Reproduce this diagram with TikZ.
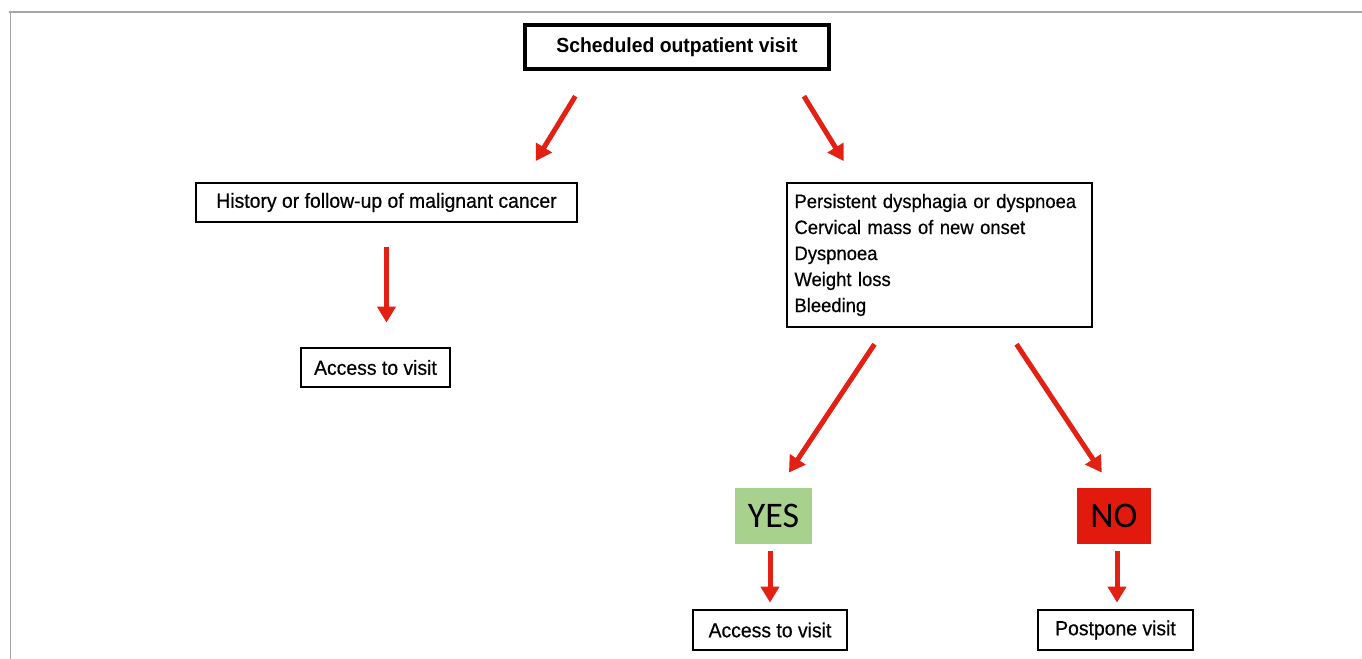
\documentclass[tikz,border=0pt]{standalone}
\usepackage{fontspec}
\setmainfont{Liberation Sans}[FakeStretch=0.95]
\newfontfamily\boxfont{Liberation Sans}[FakeStretch=0.95,FakeBold=0.5]
\newfontfamily\yesfont{Carlito}
\usetikzlibrary{arrows.meta,calc}
\definecolor{freccia}{RGB}{226,32,20}
\definecolor{verde}{RGB}{169,209,142}
\definecolor{rosso}{RGB}{226,26,14}
\begin{document}
\begin{tikzpicture}[x=0.5pt,y=-0.5pt,
    box/.style={draw,line width=1.4pt,inner sep=0pt,font=\boxfont\fontsize{10.2}{13}\selectfont},
    arr/.style={freccia,line width=2.5pt,-{Triangle[width=9pt,length=8pt]}},
    esito/.style={inner sep=0pt,minimum height=28pt,font=\yesfont\fontsize{18}{18}\selectfont}]
    \useasboundingbox (0,0) rectangle (1362,659);
    \draw[gray!70,line width=0.8pt] (9,12) -- (1362,12); %cornice sopra
    \draw[gray!70,line width=0.8pt] (10.5,12) -- (10.5,659); %cornice sinistra
    \node[box,line width=1.6pt,font=\bfseries\fontsize{10.2}{12}\selectfont,minimum width=152pt,minimum height=22pt] (top) at (677,47) {Scheduled outpatient visit};
    \node[box,minimum width=190.5pt,minimum height=19.5pt] (hist) at (386.5,202.5) {History or follow-up of malignant cancer};
    \node[box,minimum width=74.5pt,minimum height=19.5pt] (acc1) at (375.5,367.5) {Access to visit};
    \node[box,font=\boxfont\fontsize{9.7}{13}\selectfont,inner xsep=3.75pt,text width=145pt,minimum height=72pt,align=left] (sym) at (939.5,255)
      {Persistent dysphagia or dyspnoea\\Cervical mass of new onset\\Dyspnoea\\Weight loss\\Bleeding};
    \node[esito,fill=verde,minimum width=38.5pt] (yes) at (773.5,516) {YES}; %si
    \node[esito,fill=rosso,minimum width=37pt] (no) at (1114,516) {NO}; %no
    \node[box,minimum width=77pt,minimum height=20pt] (acc2) at (770,630) {Access to visit};
    \node[box,minimum width=77.5pt,minimum height=20pt] (post) at (1115.5,630) {Postpone visit};
    % frecce
    \draw[arr,shorten <=15pt,shorten >=12pt] ($(top.south west)!0.22!(top.south east)$) -- ($(hist.north west)!0.856!(hist.north east)$);
    \draw[arr,shorten <=15pt,shorten >=12pt] ($(top.south west)!0.862!(top.south east)$) -- ($(sym.north west)!0.23!(sym.north east)$);
    \draw[arr,shorten <=12pt,shorten >=12pt] (hist.south) -- (hist.south |- acc1.north);
    \draw[arr,shorten <=9.5pt,shorten >=9pt] ($(sym.south west)!0.323!(sym.south east)$) -- ($(yes.north west)!0.57!(yes.north east)$);
    \draw[arr,shorten <=9.5pt,shorten >=9pt] ($(sym.south west)!0.716!(sym.south east)$) -- ($(no.north west)!0.47!(no.north east)$);
    \draw[arr,shorten <=3.5pt,shorten >=3pt] (acc2 |- yes.south) -- (acc2.north);
    \draw[arr,shorten <=3.5pt,shorten >=3pt] ([xshift=1.5pt]no.south) -- ([xshift=1.5pt]no.south |- post.north);
\end{tikzpicture}
\end{document}
